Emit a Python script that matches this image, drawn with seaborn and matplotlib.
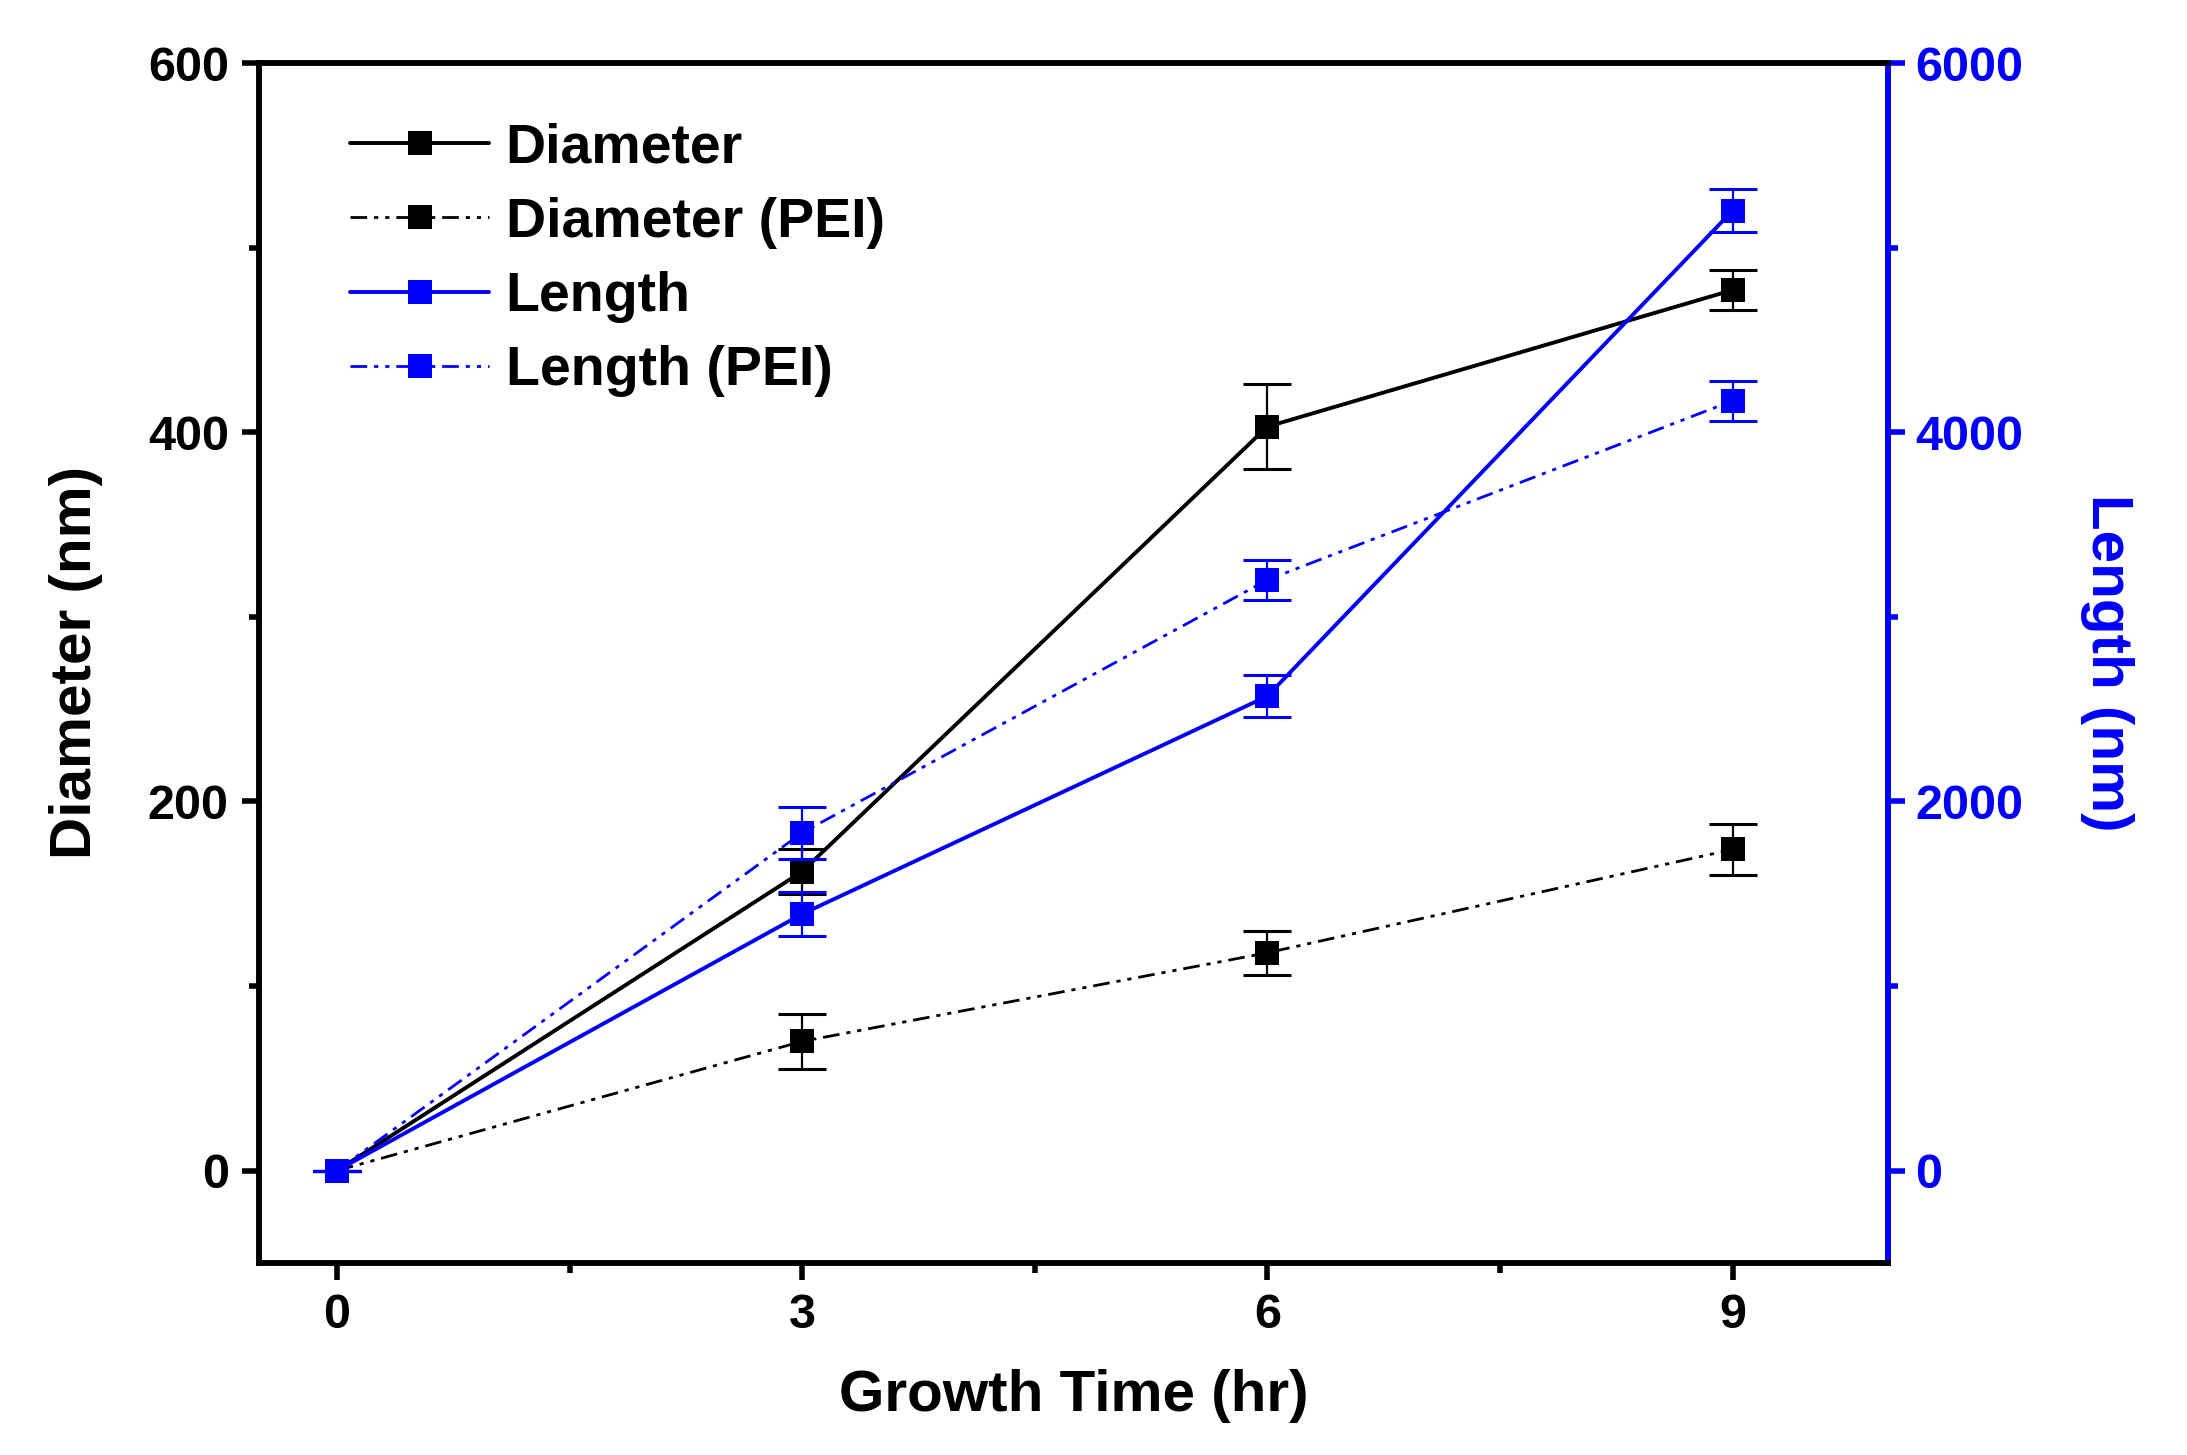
import numpy as np
import matplotlib
matplotlib.use("Agg")
import matplotlib.pyplot as plt
import seaborn as sns
import pandas as pd
from matplotlib.ticker import MultipleLocator

# data
time_hr = [0, 3, 6, 9]
diameter = [0, 162, 403, 477]
diameter_err = [0, 12, 23, 11]
diameter_pei = [0, 70, 118, 174]
diameter_pei_err = [0, 15, 12, 14]
length = [0, 1390, 2570, 5200]
length_err = [0, 120, 115, 118]
length_pei = [0, 1830, 3200, 4170]
length_pei_err = [0, 140, 110, 110]

sns.set_theme(style="ticks")
plt.rcParams["font.family"] = ["Liberation Sans", "DejaVu Sans"]
plt.rcParams.update({"text.color": "black", "axes.labelcolor": "black",
                     "xtick.color": "black", "ytick.color": "black"})

BLUE = "#0000ff"
dashdotdot = (0, (6, 2.5, 1.5, 2.5, 1.5, 2.5))

fig = plt.figure(figsize=(21.87, 14.55), dpi=100)
ax = fig.add_axes([0.1186, 0.132, 0.7445, 0.8247])
ax2 = ax.twinx()

df = pd.DataFrame({"t": time_hr, "d": diameter, "dp": diameter_pei,
                   "l": length, "lp": length_pei})

sns.lineplot(data=df, x="t", y="d", ax=ax, color="black", lw=2.8,
             marker="s", markersize=17, markeredgewidth=0, label="Diameter")
sns.lineplot(data=df, x="t", y="dp", ax=ax, color="black", lw=2.0,
             linestyle=dashdotdot, marker="s", markersize=17,
             markeredgewidth=0, label="Diameter (PEI)")
ax.errorbar(time_hr, diameter, yerr=diameter_err, fmt="none", ecolor="black",
            elinewidth=1.6, capsize=17, capthick=2.2)
ax.errorbar(time_hr, diameter_pei, yerr=diameter_pei_err, fmt="none",
            ecolor="black", elinewidth=1.6, capsize=17, capthick=2.2)

sns.lineplot(data=df, x="t", y="l", ax=ax2, color=BLUE, lw=2.8,
             marker="s", markersize=17, markeredgewidth=0, label="Length")
sns.lineplot(data=df, x="t", y="lp", ax=ax2, color=BLUE, lw=2.0,
             linestyle=dashdotdot, marker="s", markersize=17,
             markeredgewidth=0, label="Length (PEI)")
ax2.errorbar(time_hr, length, yerr=length_err, fmt="none", ecolor=BLUE,
             elinewidth=1.6, capsize=17, capthick=2.2)
ax2.errorbar(time_hr, length_pei, yerr=length_pei_err, fmt="none",
             ecolor=BLUE, elinewidth=1.6, capsize=17, capthick=2.2)

ax.set_xlim(-0.5, 10)
ax.set_ylim(-50, 600)
ax2.set_ylim(-500, 6000)

ax.xaxis.set_major_locator(MultipleLocator(3))
ax.xaxis.set_minor_locator(MultipleLocator(1.5))
ax.yaxis.set_major_locator(MultipleLocator(200))
ax.yaxis.set_minor_locator(MultipleLocator(100))
ax2.yaxis.set_major_locator(MultipleLocator(2000))
ax2.yaxis.set_minor_locator(MultipleLocator(1000))

for a in (ax, ax2):
    for s in a.spines.values():
        s.set_linewidth(4)
        s.set_color("black")
ax2.spines["right"].set_color(BLUE)

ax.tick_params(axis="both", which="major", direction="out", length=12,
               width=4, pad=10)
ax.tick_params(axis="both", which="minor", direction="out", length=7,
               width=4)
ax2.tick_params(axis="y", which="major", direction="out", length=12,
                width=4, color=BLUE, labelcolor=BLUE, pad=8)
ax2.tick_params(axis="y", which="minor", direction="out", length=7,
                width=4, color=BLUE)
ax.tick_params(axis="y", which="both", right=False)

for lab in ax.get_xticklabels() + ax.get_yticklabels() + ax2.get_yticklabels():
    lab.set_fontsize(35)
    lab.set_fontweight("bold")

ax.set_xlabel("Growth Time (hr)", fontsize=42, fontweight="bold",
              labelpad=22)
ax.set_ylabel("Diameter (nm)", fontsize=42, fontweight="bold", labelpad=32)
ax2.set_ylabel("Length (nm)", fontsize=42, fontweight="bold", color=BLUE,
               rotation=270, labelpad=80)

h1, l1 = ax.get_legend_handles_labels()
h2, l2 = ax2.get_legend_handles_labels()
ax2.get_legend().remove()
leg = ax.legend(h1 + h2, l1 + l2, loc="upper left", frameon=False,
                bbox_to_anchor=(0.025, 0.992), handlelength=2.5,
                handletextpad=0.3, labelspacing=0.4,
                prop={"weight": "bold", "size": 40})

fig.savefig("out.png", dpi=100)
